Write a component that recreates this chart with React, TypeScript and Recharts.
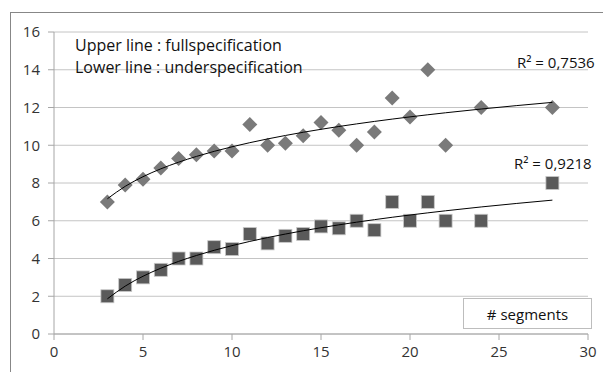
import React from 'react';
import { ComposedChart, Scatter, XAxis, YAxis, CartesianGrid } from 'recharts';

const xValues = [3, 4, 5, 6, 7, 8, 9, 10, 11, 12, 13, 14, 15, 16, 17, 18, 19, 20, 21, 22, 24, 28];
const upperValues = [7, 7.9, 8.2, 8.8, 9.3, 9.5, 9.7, 9.7, 11.1, 10, 10.1, 10.5, 11.2, 10.8, 10, 10.7, 12.5, 11.5, 14, 10, 12, 12];
const lowerValues = [2, 2.6, 3, 3.4, 4, 4, 4.6, 4.5, 5.3, 4.8, 5.2, 5.3, 5.7, 5.6, 6, 5.5, 7, 6, 7, 6, 6, 8];
const xTicks = [0, 5, 10, 15, 20, 25, 30];
const yTicks = [0, 2, 4, 6, 8, 10, 12, 14, 16];
const upperLabel = 'Upper line : fullspecification';
const lowerLabel = 'Lower line : underspecification';
const upperR2 = 'R² = 0,7536';
const lowerR2 = 'R² = 0,9218';
const legendLabel = '# segments';

const upperData = xValues.map((x, i) => ({ x, y: upperValues[i] }));
const lowerData = xValues.map((x, i) => ({ x, y: lowerValues[i] }));

// Logarithmic least-squares trendline (as the spreadsheet computes it)
function logFit(xs: number[], ys: number[]) {
  const n = xs.length;
  const lx = xs.map((x) => Math.log(x));
  const mx = lx.reduce((a, b) => a + b, 0) / n;
  const my = ys.reduce((a, b) => a + b, 0) / n;
  let sxy = 0;
  let sxx = 0;
  for (let i = 0; i < n; i++) {
    sxy += (lx[i] - mx) * (ys[i] - my);
    sxx += (lx[i] - mx) * (lx[i] - mx);
  }
  const b = sxy / sxx;
  const a = my - b * mx;
  return xs.map((x) => ({ x, y: a + b * Math.log(x) }));
}

const upperFit = logFit(xValues, upperValues);
const lowerFit = logFit(xValues, lowerValues);

const FONT = '"Open Sans", sans-serif';

const Diamond = (props: any) => {
  const { cx, cy } = props;
  const r = 7.5;
  return <path d={`M${cx},${cy - r}L${cx + r},${cy}L${cx},${cy + r}L${cx - r},${cy}Z`} fill="#7a7a7a" />;
};

const Square = (props: any) => {
  const { cx, cy } = props;
  const s = 13;
  return <rect x={cx - s / 2} y={cy - s / 2} width={s} height={s} fill="#5a5a5a" stroke="#c8c8c8" strokeWidth={0.8} />;
};

const Nothing = () => <g />;

const textStyle: React.CSSProperties = {
  position: 'absolute',
  fontFamily: FONT,
  fontSize: 15,
  lineHeight: '20px',
  color: '#111',
  whiteSpace: 'nowrap',
};

export default function App() {
  return (
    <div style={{ position: 'absolute', left: 0, top: 0, width: 603, height: 372, background: '#fff', overflow: 'hidden' }}>
      <div style={{ position: 'absolute', left: 10, top: 12, width: 620, height: 400, border: '1px solid #878787' }} />
      <div style={{ position: 'absolute', left: 0, top: 0 }}>
        <ComposedChart width={603} height={372} margin={{ top: 32, right: 15, bottom: 0, left: 0 }}>
          <CartesianGrid vertical={false} stroke="#c4c4c4" />
          <XAxis
            type="number"
            dataKey="x"
            domain={[0, 30]}
            ticks={xTicks}
            height={38}
            stroke="#a6a6a6"
            tickSize={6}
            tickMargin={6}
            tick={{ fill: '#333', fontSize: 15, fontFamily: FONT }}
            allowDataOverflow
          />
          <YAxis
            type="number"
            dataKey="y"
            domain={[0, 16]}
            ticks={yTicks}
            width={54}
            stroke="#a6a6a6"
            tickSize={6}
            tickMargin={8}
            tick={{ fill: '#333', fontSize: 15, fontFamily: FONT }}
            allowDataOverflow
          />
          <Scatter data={upperData} shape={Diamond} isAnimationActive={false} />
          <Scatter data={lowerData} shape={Square} isAnimationActive={false} />
          <Scatter data={upperFit} shape={Nothing} line={{ stroke: '#000', strokeWidth: 1 }} lineJointType="monotoneX" isAnimationActive={false} />
          <Scatter data={lowerFit} shape={Nothing} line={{ stroke: '#000', strokeWidth: 1 }} lineJointType="monotoneX" isAnimationActive={false} />
        </ComposedChart>
      </div>
      <div style={{ ...textStyle, fontSize: 16, left: 75, top: 35 }}>{upperLabel}</div>
      <div style={{ ...textStyle, fontSize: 16, left: 75, top: 57 }}>{lowerLabel}</div>
      <div style={{ ...textStyle, left: 517, top: 52 }}>{upperR2}</div>
      <div style={{ ...textStyle, left: 514, top: 153 }}>{lowerR2}</div>
      <div
        style={{
          position: 'absolute',
          left: 463,
          top: 298,
          width: 127,
          height: 29,
          border: '1px solid #bdbdbd',
          background: '#fff',
          display: 'flex',
          alignItems: 'center',
          justifyContent: 'center',
          fontFamily: FONT,
          fontSize: 15,
          color: '#111',
        }}
      >
        {legendLabel}
      </div>
    </div>
  );
}
